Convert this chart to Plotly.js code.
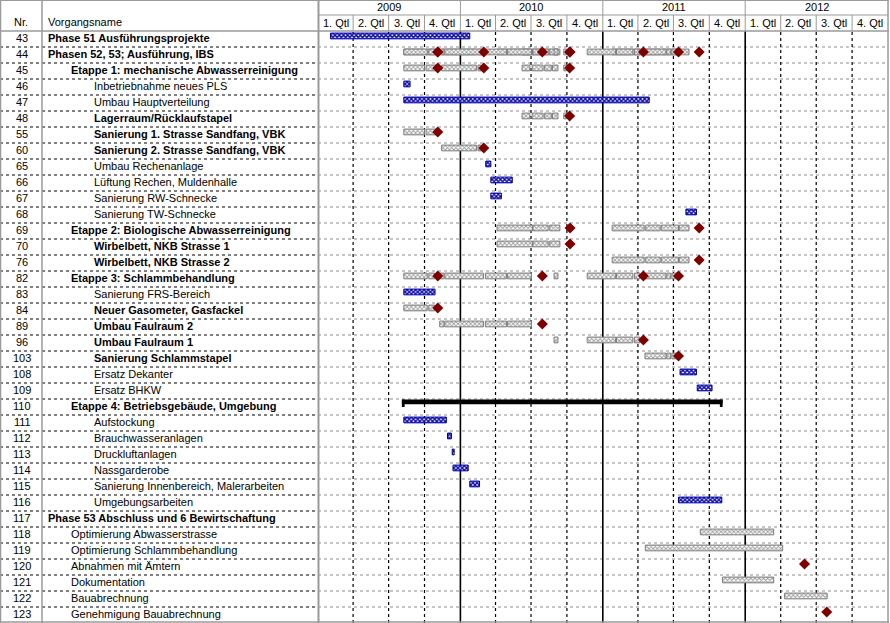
<!DOCTYPE html>
<html><head><meta charset="utf-8">
<script src="https://cdn.plot.ly/plotly-3.0.1.min.js"></script>
<style>html,body{margin:0;padding:0;background:#fff;}#chart{width:890px;height:623px;}</style>
</head><body><div id="chart"></div>
<script>
// ---------- task table ----------
const taskNr = [43,44,45,46,47,48,55,60,65,66,67,68,69,70,76,82,83,84,89,96,103,108,109,110,111,112,113,114,115,116,117,118,119,120,121,122,123];
const taskName = [
  'Phase 51 Ausführungsprojekte','Phasen 52, 53; Ausführung, IBS','Etappe 1: mechanische Abwasserreinigung',
  'Inbetriebnahme neues PLS','Umbau Hauptverteilung','Lagerraum/Rücklaufstapel',
  'Sanierung 1. Strasse Sandfang, VBK','Sanierung 2. Strasse Sandfang, VBK','Umbau Rechenanlage',
  'Lüftung Rechen, Muldenhalle','Sanierung RW-Schnecke','Sanierung TW-Schnecke',
  'Etappe 2: Biologische Abwasserreinigung','Wirbelbett, NKB Strasse 1','Wirbelbett, NKB Strasse 2',
  'Etappe 3: Schlammbehandlung','Sanierung FRS-Bereich','Neuer Gasometer, Gasfackel',
  'Umbau Faulraum 2','Umbau Faulraum 1','Sanierung Schlammstapel','Ersatz Dekanter','Ersatz BHKW',
  'Etappe 4: Betriebsgebäude, Umgebung','Aufstockung','Brauchwasseranlagen','Druckluftanlagen',
  'Nassgarderobe','Sanierung Innenbereich, Malerarbeiten','Umgebungsarbeiten',
  'Phase 53 Abschluss und 6 Bewirtschaftung','Optimierung Abwasserstrasse','Optimierung Schlammbehandlung',
  'Abnahmen mit Ämtern','Dokumentation','Bauabrechnung','Genehmigung Bauabrechnung'];
const taskIndent = [0,0,1,2,2,2,2,2,2,2,2,2,1,2,2,1,2,2,2,2,2,2,2,1,2,2,2,2,2,2,0,1,1,1,1,1,1];
const taskBold   = [1,1,1,0,0,1,1,1,0,0,0,0,1,1,1,1,0,1,1,1,1,0,0,1,0,0,0,0,0,0,1,0,0,0,0,0,0];

// ---------- timescale ----------
const years = ['2009','2010','2011','2012'];
const quarterLabels = ['1. Qtl','2. Qtl','3. Qtl','4. Qtl'];

// ---------- blue task bars ----------
const blueNr    = [43,46,47,65,66,67,68,83,108,109,111,112,113,114,115,116];
const blueStart = ['2009-02-02','2009-08-09','2009-08-09','2010-03-07','2010-03-20','2010-03-20','2011-08-02','2009-08-09',
                   '2011-07-18','2011-08-31','2009-08-09','2009-11-29','2009-12-11','2009-12-13','2010-01-25','2011-07-14'];
const blueEnd   = ['2010-01-25','2009-08-25','2011-04-30','2010-03-20','2010-05-14','2010-04-16','2011-08-29','2009-10-28',
                   '2011-08-29','2011-10-08','2009-11-26','2009-12-09','2009-12-16','2010-01-21','2010-02-19','2011-11-02'];

// ---------- gray bars (collapsed subtasks and phase 53 tasks) ----------
const grayNr    = [55,55,60,60,48,48,48,48,48,70,70,70,76,76,76,76,84,84,89,89,89,89,96,96,96,96,103,103,103,118,119,121,122];
const grayStart = ['2009-08-09','2009-10-05','2009-11-14','2010-02-15',
                   '2010-06-08','2010-07-04','2010-08-05','2010-08-25','2010-09-23',
                   '2010-04-05','2010-07-06','2010-08-18',
                   '2011-01-25','2011-04-21','2011-05-31','2011-07-16',
                   '2009-08-09','2009-10-12',
                   '2009-11-09','2009-11-22','2010-03-06','2010-05-02',
                   '2010-08-29','2010-11-22','2011-02-05','2011-03-23',
                   '2011-04-19','2011-06-14','2011-06-27',
                   '2011-09-08','2011-04-20','2011-11-04','2012-04-11'];
const grayEnd   = ['2009-10-01','2009-10-31','2010-02-11','2010-02-24',
                   '2010-06-28','2010-08-01','2010-08-22','2010-09-08','2010-09-30',
                   '2010-07-05','2010-08-14','2010-09-13',
                   '2011-04-17','2011-05-28','2011-07-14','2011-08-10',
                   '2009-10-08','2009-10-27',
                   '2009-11-20','2010-03-01','2010-04-29','2010-07-02',
                   '2010-09-08','2011-02-03','2011-03-19','2011-04-06',
                   '2011-06-12','2011-06-24','2011-07-11',
                   '2012-03-14','2012-04-06','2012-03-14','2012-07-29'];

// ---------- milestones ----------
const msNr   = [55,60,48,70,76,84,89,96,103,120,123];
const msDate = ['2009-11-04','2010-03-02','2010-10-08','2010-10-09','2011-09-05','2009-11-04','2010-07-30','2011-04-15','2011-07-14','2012-06-01','2012-07-28'];

// ---------- roll-up of collapsed tasks into their summary rows ----------
const rollChild  = [55,55,60,60,48,48,70,70,76,76,84,84,89,89,96,96,103,103];
const rollParent = [45,44,45,44,45,44,69,44,69,44,82,44,82,44,82,44,82,44];

// ---------- summary bar ----------
const sumNr = [110], sumStart = ['2009-08-04'], sumEnd = ['2011-11-04'];

// ================= drawing =================
const W = 890, H = 623, ML = 318, MR = 2, MT = 31, MB = 0;
const PW = W - ML - MR, PH = H - MT - MB;
const px2paperX = p => (p - ML) / PW;
const py2paperY = p => (H - MB - p) / PH;
const rowOf = nr => taskNr.indexOf(nr);
const OFF = -0.19;           // bars sit in the upper part of each row
const dur = (a, b) => Date.parse(b) - Date.parse(a);

// expand roll-ups
const gN = grayNr.slice(), gS = grayStart.slice(), gE = grayEnd.slice();
const mN = msNr.slice(), mD = msDate.slice();
rollChild.forEach((c, k) => {
  grayNr.forEach((n, j) => { if (n === c) { gN.push(rollParent[k]); gS.push(grayStart[j]); gE.push(grayEnd[j]); } });
  msNr.forEach((n, j) => { if (n === c) { mN.push(rollParent[k]); mD.push(msDate[j]); } });
});

const traces = [];
traces.push({
  type: 'bar', orientation: 'h', base: gS, x: gS.map((s, i) => dur(s, gE[i])),
  y: gN.map(n => rowOf(n) + OFF), width: 0.36,
  marker: { color: '#ffffff', line: { color: '#7c7c7c', width: 1 },
            pattern: { shape: 'x', fgcolor: '#9c9c9c', bgcolor: '#ffffff', size: 3, solidity: 0.5 } },
  hoverinfo: 'skip'
});
traces.push({
  type: 'bar', orientation: 'h', base: blueStart, x: blueStart.map((s, i) => dur(s, blueEnd[i])),
  y: blueNr.map(n => rowOf(n) + OFF), width: 0.36,
  marker: { color: '#ffffff', line: { color: '#000099', width: 1 },
            pattern: { shape: 'x', fgcolor: '#0a0ab0', bgcolor: '#ffffff', size: 3, solidity: 0.7 } },
  hoverinfo: 'skip'
});
traces.push({
  type: 'bar', orientation: 'h', base: sumStart, x: sumStart.map((s, i) => dur(s, sumEnd[i])),
  y: sumNr.map(n => rowOf(n) - 0.32), width: 0.29,
  marker: { color: '#000000', line: { width: 0 } }, hoverinfo: 'skip'
});
const CAP = 7 * 86400000;
traces.push({
  type: 'bar', orientation: 'h',
  base: sumStart.concat(sumEnd.map(e => new Date(Date.parse(e) - CAP).toISOString().slice(0, 10))),
  x: sumStart.concat(sumEnd).map(() => CAP),
  y: sumNr.concat(sumNr).map(n => rowOf(n) - 0.23), width: 0.46,
  marker: { color: '#000000', line: { width: 0 } }, hoverinfo: 'skip'
});
traces.push({
  type: 'scatter', mode: 'markers', x: mD, y: mN.map(n => rowOf(n) + OFF),
  marker: { symbol: 'diamond', size: 8.5, color: '#800000', line: { width: 0 } }, hoverinfo: 'skip'
});

// ---------- shapes ----------
const shapes = [];
const nRows = taskNr.length;
for (let i = 0; i < nRows - 1; i++) {
  shapes.push({ type: 'line', xref: 'paper', yref: 'y', x0: px2paperX(0), x1: 0, y0: i + 0.5, y1: i + 0.5,
                line: { color: '#000000', width: 1, dash: 'dot' } });
  shapes.push({ type: 'line', xref: 'paper', yref: 'y', x0: 0, x1: 1, y0: i + 0.5, y1: i + 0.5,
                line: { color: '#8c8c8c', width: 1, dash: 'dot' }, layer: 'below' });
}
const qStarts = [], qMids = [], qText = [];
years.forEach(y => {
  ['01','04','07','10'].forEach((m, q) => {
    const s = `${y}-${m}-01`;
    const e = q < 3 ? `${y}-${['04','07','10'][q]}-01` : `${+y + 1}-01-01`;
    qStarts.push(s); qMids.push(new Date((Date.parse(s) + Date.parse(e)) / 2).toISOString());
    qText.push(quarterLabels[q]);
  });
});
qStarts.forEach((s, k) => {
  if (k === 0) return;
  const isYear = s.endsWith('-01-01');
  shapes.push({ type: 'line', xref: 'x', yref: 'paper', x0: s, x1: s, y0: 0, y1: 1,
                line: { color: '#000000', width: isYear ? 1.6 : 1.2, dash: isYear ? 'solid' : 'dot' }, layer: 'below' });
  shapes.push({ type: 'line', xref: 'x', yref: 'paper', x0: s, x1: s, y0: 1, y1: isYear ? py2paperY(0) : py2paperY(15),
                line: { color: '#9a9a9a', width: 1 } });
});
const gridGray = '#9a9a9a';
// header horizontal lines
shapes.push({ type: 'line', xref: 'paper', yref: 'paper', x0: px2paperX(0), x1: px2paperX(889), y0: py2paperY(0.5), y1: py2paperY(0.5), line: { color: gridGray, width: 1 } });
shapes.push({ type: 'line', xref: 'paper', yref: 'paper', x0: 0, x1: 1, y0: py2paperY(15), y1: py2paperY(15), line: { color: gridGray, width: 1 } });
shapes.push({ type: 'line', xref: 'paper', yref: 'paper', x0: px2paperX(0), x1: px2paperX(889), y0: 1, y1: 1, line: { color: gridGray, width: 1.5 } });
shapes.push({ type: 'line', xref: 'paper', yref: 'paper', x0: px2paperX(0), x1: px2paperX(889), y0: py2paperY(622), y1: py2paperY(622), line: { color: gridGray, width: 1.5 } });
// vertical frame lines
[0.5, 42, 318.5, 888].forEach(p => {
  shapes.push({ type: 'line', xref: 'paper', yref: 'paper', x0: px2paperX(p), x1: px2paperX(p), y0: 0, y1: py2paperY(0),
                line: { color: gridGray, width: p === 318.5 ? 2 : 1.5 } });
});

// ---------- annotations ----------
const ann = [];
const font = { family: 'Liberation Sans, Arial, sans-serif', size: 11, color: '#000' };
ann.push({ xref: 'paper', yref: 'paper', x: px2paperX(21), y: py2paperY(22), text: 'Nr.', showarrow: false, xanchor: 'center', yanchor: 'middle', font });
ann.push({ xref: 'paper', yref: 'paper', x: px2paperX(46), y: py2paperY(22), text: 'Vorgangsname', showarrow: false, xanchor: 'left', yanchor: 'middle', font });
const indentPx = [46, 69, 92];
taskNr.forEach((n, i) => {
  ann.push({ xref: 'paper', yref: 'y', x: px2paperX(22), y: i - 0.04, text: String(n), showarrow: false, xanchor: 'center', yanchor: 'middle', font });
  ann.push({ xref: 'paper', yref: 'y', x: px2paperX(indentPx[taskIndent[i]]), y: i - 0.04,
             text: taskBold[i] ? `<b>${taskName[i]}</b>` : taskName[i], showarrow: false, xanchor: 'left', yanchor: 'middle', font });
});
years.forEach(y => {
  ann.push({ xref: 'x', yref: 'paper', x: `${y}-07-02`, y: py2paperY(7.5), text: y, showarrow: false, xanchor: 'center', yanchor: 'middle', font });
});
qMids.forEach((m, k) => {
  ann.push({ xref: 'x', yref: 'paper', x: m, y: py2paperY(23), text: qText[k], showarrow: false, xanchor: 'center', yanchor: 'middle', font });
});

const layout = {
  width: W, height: H, margin: { l: ML, r: MR, t: MT, b: MB },
  paper_bgcolor: '#ffffff', plot_bgcolor: '#ffffff', showlegend: false, barmode: 'overlay',
  xaxis: { type: 'date', range: ['2009-01-01', '2013-01-01'], showgrid: false, zeroline: false, showticklabels: false, ticks: '', fixedrange: true },
  yaxis: { range: [nRows - 0.5, -0.5], showgrid: false, zeroline: false, showticklabels: false, ticks: '', fixedrange: true },
  shapes, annotations: ann
};
Plotly.newPlot('chart', traces, layout, { displayModeBar: false, staticPlot: true });
</script></body></html>
